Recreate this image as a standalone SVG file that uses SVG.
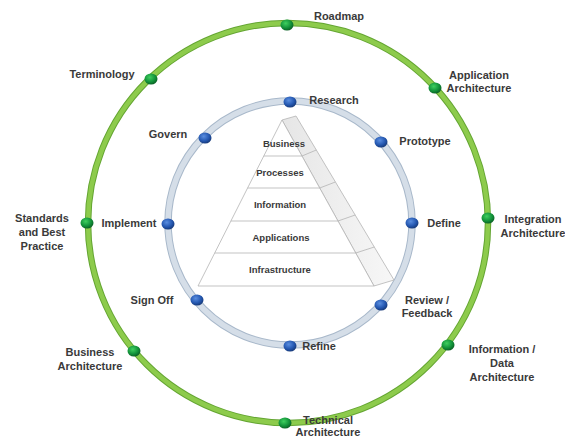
<svg xmlns="http://www.w3.org/2000/svg" width="565" height="437" viewBox="0 0 565 437">
<style>
.lbl{font-family:"Liberation Sans",Arial,sans-serif;font-weight:bold;font-size:11px;fill:#3a3a3a;text-anchor:middle}
.pl{font-family:"Liberation Sans",Arial,sans-serif;font-weight:bold;font-size:9.5px;fill:#3a3a3a;text-anchor:middle}
.edge{fill:none;stroke:#b4b4b4;stroke-width:0.8}
</style>
<defs>
<radialGradient id="gdot" cx="0.4" cy="0.35" r="0.7">
<stop offset="0" stop-color="#3fcf5f"/>
<stop offset="0.6" stop-color="#12923a"/>
<stop offset="1" stop-color="#0a5a22"/>
</radialGradient>
<radialGradient id="bdot" cx="0.4" cy="0.35" r="0.7">
<stop offset="0" stop-color="#5a8ee0"/>
<stop offset="0.6" stop-color="#2457b0"/>
<stop offset="1" stop-color="#153570"/>
</radialGradient>
<linearGradient id="side" x1="0" y1="0" x2="1" y2="0">
<stop offset="0" stop-color="#e6e6e6"/>
<stop offset="1" stop-color="#f7f7f7"/>
</linearGradient>
</defs>
<rect width="565" height="437" fill="#ffffff"/>

<g id="connectors">
<circle cx="288" cy="223" r="200" fill="none" stroke="#64a532" stroke-width="6.5"/>
<circle cx="288" cy="223" r="200" fill="none" stroke="#8dcb4c" stroke-width="4.5"/>
<circle cx="290" cy="223" r="122" fill="none" stroke="#a8b8ca" stroke-width="7.5"/>
<circle cx="290" cy="223" r="122" fill="none" stroke="#d5dee8" stroke-width="5.5"/>
</g>

<g id="pyramid">
<polygon points="282,120 296,116 394,280 374,286" fill="url(#side)" stroke="#b4b4b4" stroke-width="0.8"/>
<polygon points="282,120 374,286 198,286" fill="#ffffff" stroke="#b4b4b4" stroke-width="0.8"/>
<g id="layer-business"><line class="edge" x1="263.8" y1="156" x2="302" y2="156"/><line class="edge" x1="302" y1="156" x2="316.3" y2="150"/><text class="pl" x="284" y="147">Business</text></g>
<g id="layer-processes"><line class="edge" x1="247.6" y1="188" x2="319.7" y2="188"/><line class="edge" x1="319.7" y1="188" x2="335.4" y2="182"/><text class="pl" x="280" y="176">Processes</text></g>
<g id="layer-information"><line class="edge" x1="230.9" y1="221" x2="338" y2="221"/><line class="edge" x1="338" y1="221" x2="355.2" y2="215"/><text class="pl" x="280" y="208">Information</text></g>
<g id="layer-applications"><line class="edge" x1="214.7" y1="253" x2="355.7" y2="253"/><line class="edge" x1="355.7" y1="253" x2="374.3" y2="247"/><text class="pl" x="281" y="241">Applications</text></g>
<g id="layer-infrastructure"><text class="pl" x="280" y="273">Infrastructure</text></g>
</g>

<g id="roadmap"><ellipse cx="287" cy="25" rx="6.5" ry="5.5" fill="url(#gdot)"/><text class="lbl" x="339" y="20">Roadmap</text></g>
<g id="terminology"><ellipse cx="151" cy="79" rx="6.5" ry="5.5" fill="url(#gdot)"/><text class="lbl" x="102" y="78">Terminology</text></g>
<g id="application-architecture"><ellipse cx="435" cy="88" rx="6.5" ry="5.5" fill="url(#gdot)"/><text class="lbl" x="479" y="79">Application</text><text class="lbl" x="479" y="92">Architecture</text></g>
<g id="integration-architecture"><ellipse cx="488" cy="218" rx="6.5" ry="5.5" fill="url(#gdot)"/><text class="lbl" x="533" y="223">Integration</text><text class="lbl" x="533" y="237">Architecture</text></g>
<g id="information-data-architecture"><ellipse cx="448" cy="345" rx="6.5" ry="5.5" fill="url(#gdot)"/><text class="lbl" x="502" y="353">Information /</text><text class="lbl" x="502" y="367">Data</text><text class="lbl" x="502" y="381">Architecture</text></g>
<g id="technical-architecture"><ellipse cx="285" cy="423" rx="6.5" ry="5.5" fill="url(#gdot)"/><text class="lbl" x="328" y="424">Technical</text><text class="lbl" x="328" y="436">Architecture</text></g>
<g id="business-architecture"><ellipse cx="134" cy="351" rx="6.5" ry="5.5" fill="url(#gdot)"/><text class="lbl" x="90" y="356">Business</text><text class="lbl" x="90" y="370">Architecture</text></g>
<g id="standards"><ellipse cx="87" cy="223" rx="6.5" ry="5.5" fill="url(#gdot)"/><text class="lbl" x="42" y="222">Standards</text><text class="lbl" x="42" y="236">and Best</text><text class="lbl" x="42" y="250">Practice</text></g>

<g id="research"><ellipse cx="290" cy="102" rx="6.5" ry="5.5" fill="url(#bdot)"/><text class="lbl" x="334" y="104">Research</text></g>
<g id="prototype"><ellipse cx="381" cy="142" rx="6.5" ry="5.5" fill="url(#bdot)"/><text class="lbl" x="425" y="145">Prototype</text></g>
<g id="define"><ellipse cx="412" cy="223" rx="6.5" ry="5.5" fill="url(#bdot)"/><text class="lbl" x="444" y="227">Define</text></g>
<g id="review-feedback"><ellipse cx="381" cy="305" rx="6.5" ry="5.5" fill="url(#bdot)"/><text class="lbl" x="427" y="304">Review /</text><text class="lbl" x="427" y="317">Feedback</text></g>
<g id="refine"><ellipse cx="290" cy="346" rx="6.5" ry="5.5" fill="url(#bdot)"/><text class="lbl" x="319" y="350">Refine</text></g>
<g id="sign-off"><ellipse cx="197" cy="300" rx="6.5" ry="5.5" fill="url(#bdot)"/><text class="lbl" x="152" y="304">Sign Off</text></g>
<g id="implement"><ellipse cx="168" cy="224" rx="6.5" ry="5.5" fill="url(#bdot)"/><text class="lbl" x="129" y="227">Implement</text></g>
<g id="govern"><ellipse cx="205" cy="138" rx="6.5" ry="5.5" fill="url(#bdot)"/><text class="lbl" x="168" y="138">Govern</text></g>
</svg>
